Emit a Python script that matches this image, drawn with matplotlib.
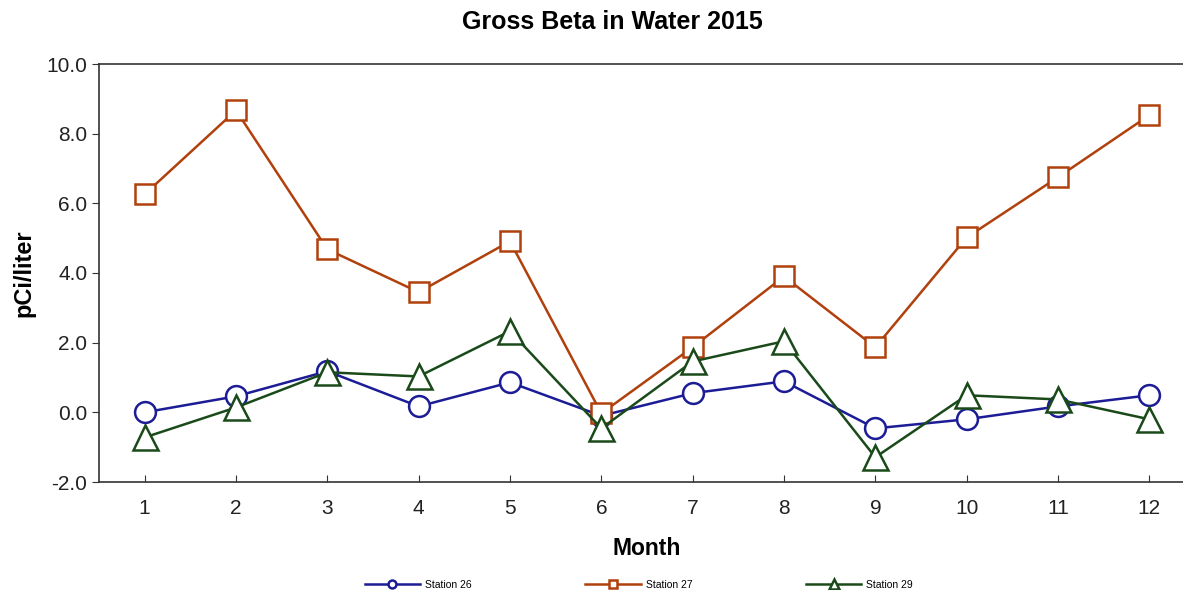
import matplotlib.pyplot as plt
import numpy as np
from matplotlib.ticker import FormatStrFormatter

plt.rcParams["font.family"] = ["Liberation Sans", "DejaVu Sans"]

months = list(range(1, 13))
station_26 = [0.0, 0.46, 1.18, 0.17, 0.86, -0.1, 0.55, 0.89, -0.46, -0.2, 0.17, 0.49]
station_27 = [6.26, 8.67, 4.68, 3.45, 4.91, -0.03, 1.87, 3.9, 1.87, 5.02, 6.75, 8.53]
station_29 = [-0.72, 0.14, 1.15, 1.03, 2.33, -0.46, 1.46, 2.04, -1.29, 0.49, 0.37, -0.2]

series = [
    ("Station 26", station_26, "#1c1c96", "o", 15),
    ("Station 27", station_27, "#b0400c", "s", 15),
    ("Station 29", station_29, "#1a4a1a", "^", 18),
]


def plot_chart():
    fig = plt.figure(figsize=(11.83, 5.90), dpi=100)
    ax = fig.add_axes([99 / 1183, 1 - 482 / 590, 1096 / 1183, 418 / 590])

    for name, vals, color, marker, ms in series:
        ax.plot(months, vals, color=color, lw=1.8, marker=marker, ms=ms,
                mfc="white", mec=color, mew=1.8, label=name)

    ax.set_xlim(0.5, 12.5)
    ax.set_ylim(-2.0, 10.0)
    ax.set_xticks(months)
    ax.set_yticks(np.arange(-2.0, 10.1, 2.0))
    ax.yaxis.set_major_formatter(FormatStrFormatter("%.1f"))
    ax.tick_params(axis="x", direction="in", length=5, labelsize=15, pad=12,
                   colors="#333333", labelcolor="#222222")
    ax.tick_params(axis="y", direction="out", length=5, labelsize=15,
                   colors="#333333", labelcolor="#222222")
    for side in ("top", "bottom", "left"):
        ax.spines[side].set_color("#333333")
        ax.spines[side].set_linewidth(1.2)
    ax.spines["right"].set_visible(False)

    ax.set_xlabel("Month", fontsize=16.5, fontweight="bold", labelpad=14)
    ax.set_ylabel("pCi/liter", fontsize=17, fontweight="bold", labelpad=8)
    fig.text(612 / 1183, 1 - 22 / 590, "Gross Beta in Water 2015",
             ha="center", va="center", fontsize=18, fontweight="bold")

    fig.legend(loc="center", bbox_to_anchor=(639 / 1183, 5 / 590), ncol=3,
               frameon=False, fontsize=7.5, markerscale=0.38,
               handlelength=5.3, columnspacing=10.9, handletextpad=0.5)

    fig.savefig("out.png", dpi=100)


if __name__ == "__main__":
    plot_chart()
